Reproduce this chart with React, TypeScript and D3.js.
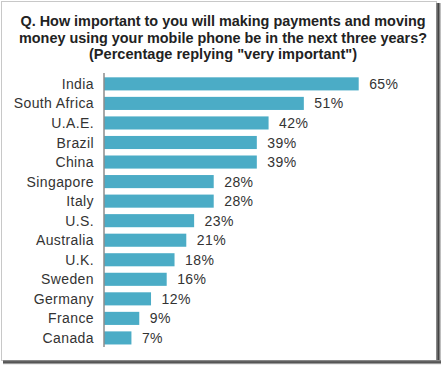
import * as d3 from "d3";

const countries = [
  "India",
  "South Africa",
  "U.A.E.",
  "Brazil",
  "China",
  "Singapore",
  "Italy",
  "U.S.",
  "Australia",
  "U.K.",
  "Sweden",
  "Germany",
  "France",
  "Canada",
];
const values = [65, 51, 42, 39, 39, 28, 28, 23, 21, 18, 16, 12, 9, 7];

const titleLines = [
  "Q. How important to you will making payments and moving",
  "money using your mobile phone be in the next three years?",
  '(Percentage replying "very important")',
];

const W = 442;
const H = 367;
const font = "'Liberation Sans', Arial, sans-serif";

export default function App() {
  const y = d3.scaleBand<string>().domain(countries).range([74.1, 347.7]).paddingInner(0.33).paddingOuter(0.165);
  const x = d3.scaleLinear().domain([0, 65]).range([104, 358.7]);

  // title line geometry (baseline y, text length)
  const titleY = [26, 42.5, 59];
  const titleLen = [405, 408, 268];

  return (
    <svg
      width={W}
      height={H}
      style={{ position: "absolute", left: 0, top: 0, background: "#fff" }}
      fontFamily={font}
    >
      <defs>
        <linearGradient id="shR" x1="0" x2="1" y1="0" y2="0">
          <stop offset="0" stopColor="#9a9a9a" />
          <stop offset="0.5" stopColor="#444" />
          <stop offset="1" stopColor="#ddd" />
        </linearGradient>
        <linearGradient id="shB" x1="0" x2="0" y1="0" y2="1">
          <stop offset="0" stopColor="#9a9a9a" />
          <stop offset="0.5" stopColor="#444" />
          <stop offset="1" stopColor="#ddd" />
        </linearGradient>
      </defs>
      <rect x={0} y={0} width={W} height={H} fill="#fff" />
      {/* photo frame */}
      <rect x={1.5} y={1.5} width={435} height={359} fill="#fff" stroke="#c8c8c8" strokeWidth={1} />
      <rect x={436} y={3} width={5} height={361} fill="url(#shR)" />
      <rect x={3} y={360} width={438} height={4.5} fill="url(#shB)" />

      {titleLines.map((t, i) => (
        <text
          key={i}
          x={223}
          y={titleY[i]}
          textAnchor="middle"
          fontSize={14}
          fontWeight="bold"
          fill="#222"
          textLength={titleLen[i]}
          lengthAdjust="spacingAndGlyphs"
        >
          {t}
        </text>
      ))}

      {countries.map((c, i) => {
        const yy = y(c)!;
        const cy = yy + y.bandwidth() / 2;
        return (
          <g key={c}>
            <rect x={x(0)} y={yy} width={x(values[i]) - x(0)} height={y.bandwidth()} fill="#4bacc6" />
            <text x={94} y={cy} dy="0.36em" textAnchor="end" fontSize={14} letterSpacing={0.4} fill="#333">
              {c}
            </text>
            <text x={x(values[i]) + 10.5} y={cy} dy="0.36em" fontSize={14} letterSpacing={0.4} fill="#333">
              {values[i]}%
            </text>
          </g>
        );
      })}

      <line x1={x(0)} x2={x(0)} y1={73} y2={347} stroke="#8c8c8c" strokeWidth={1.5} />
    </svg>
  );
}
